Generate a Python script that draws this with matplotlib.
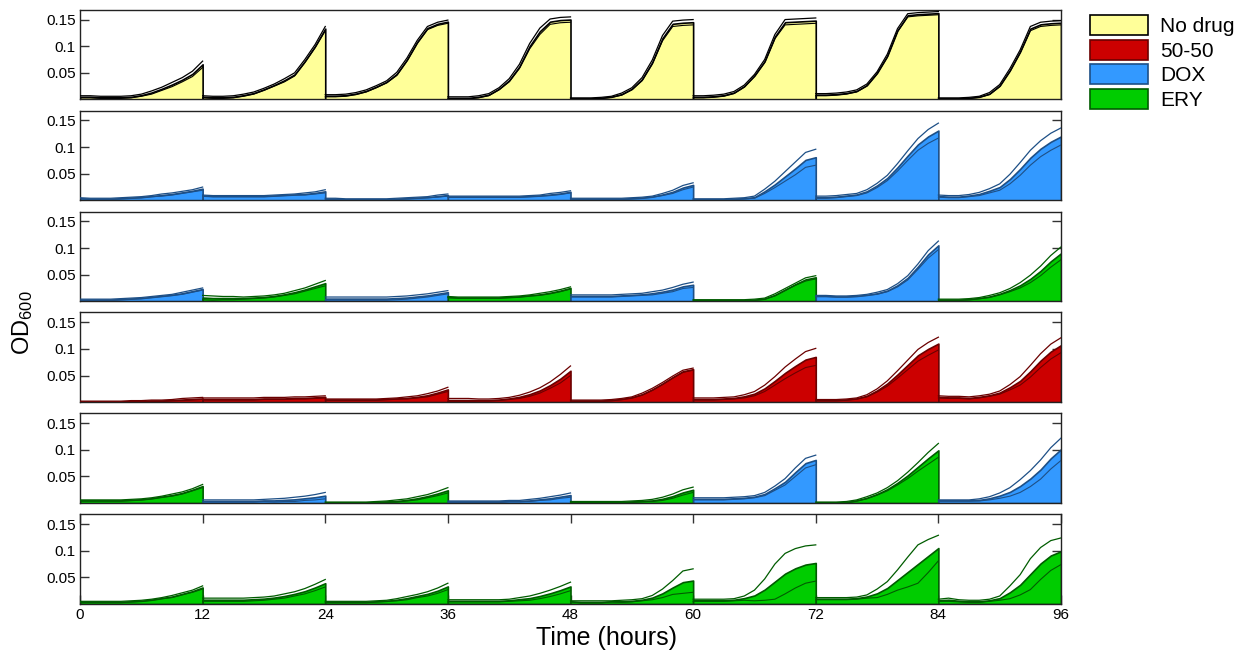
"""
Serial-transfer growth curves (OD600) under drug regimes, six lines x 8 transfers.
Each 12 h transfer: mean curve filled, +/- spread drawn as thin lines.
"""

import numpy as np
import matplotlib
matplotlib.use("Agg")
import matplotlib.pyplot as plt
from matplotlib.patches import Patch

plt.rcParams['font.family'] = ['Liberation Sans', 'DejaVu Sans']
plt.rcParams['mathtext.default'] = 'regular'

# ─── data (OD600 x 1000, hourly within each 12 h transfer) ────────────────────

hours = np.arange(13)
transfer_len = 12
time_ticks = [0, 12, 24, 36, 48, 60, 72, 84, 96]

# regime per transfer for every row: Y = no drug, R = 50-50, B = DOX, G = ERY
row_drugs = [
    list("YYYYYYYY"),
    list("BBBBBBBB"),
    list("BGBGBGBG"),
    list("RRRRRRRR"),
    list("GBGBGBGB"),
    list("GGGGGGGG"),
]

row1_mean = [
    [5, 5, 4, 4, 4, 5, 8, 13, 20, 28, 37, 48, 66],
    [5, 4, 4, 5, 8, 12, 19, 27, 36, 47, 72, 100, 133],
    [7, 7, 8, 11, 16, 24, 33, 48, 75, 108, 134, 142, 146],
    [3, 3, 3, 5, 9, 20, 36, 62, 100, 128, 146, 149, 150],
    [2, 2, 2, 3, 5, 10, 20, 38, 70, 115, 142, 144, 145],
    [5, 5, 6, 8, 13, 25, 45, 72, 118, 145, 146, 147, 148],
    [9, 9, 10, 12, 16, 27, 50, 82, 130, 158, 160, 161, 162],
    [2, 2, 2, 3, 5, 11, 26, 55, 90, 133, 141, 143, 144],
]
row1_sd = [
    [2, 2, 2, 2, 2, 2, 2, 3, 3, 4, 4, 5, 6],
    [2, 2, 2, 2, 2, 2, 2, 2, 3, 3, 3, 3, 4],
    [2, 2, 2, 2, 2, 2, 2, 3, 3, 3, 3, 3, 3],
    [2, 2, 2, 2, 2, 2, 3, 4, 5, 6, 5, 5, 5],
    [1, 1, 1, 1, 1, 2, 2, 3, 4, 5, 5, 5, 5],
    [2, 2, 2, 2, 2, 2, 2, 3, 4, 5, 5, 5, 5],
    [2, 2, 2, 2, 2, 2, 2, 3, 3, 3, 3, 3, 3],
    [1, 1, 1, 1, 1, 2, 2, 3, 3, 4, 4, 4, 4],
]

row2_mean = [
    [4, 3, 3, 3, 4, 5, 6, 8, 10, 12, 15, 18, 22],
    [9, 8, 8, 8, 8, 8, 8, 9, 10, 11, 12, 14, 17],
    [3, 3, 2, 2, 2, 2, 2, 3, 4, 5, 6, 8, 10],
    [7, 7, 7, 7, 7, 7, 7, 7, 8, 9, 11, 13, 16],
    [3, 3, 3, 3, 3, 3, 4, 5, 7, 11, 16, 24, 29],
    [2, 2, 2, 2, 3, 4, 6, 17, 30, 45, 60, 76, 81],
    [6, 6, 7, 9, 11, 17, 28, 42, 62, 84, 105, 120, 131],
    [8, 7, 7, 9, 12, 18, 25, 40, 59, 80, 97, 110, 120],
]
row2_sd = [
    [1, 1, 1, 1, 1, 1, 1, 1, 2, 2, 2, 2, 3],
    [1, 1, 1, 1, 1, 1, 1, 1, 1, 1, 2, 2, 3],
    [1, 1, 1, 1, 1, 1, 1, 1, 1, 1, 1, 2, 2],
    [1, 1, 1, 1, 1, 1, 1, 1, 1, 1, 2, 2, 2],
    [1, 1, 1, 1, 1, 1, 1, 1, 1, 2, 3, 4, 4],
    [1, 1, 1, 1, 1, 1, 2, 4, 6, 9, 12, 14, 15],
    [2, 2, 2, 2, 2, 3, 4, 5, 7, 9, 11, 13, 14],
    [2, 2, 2, 2, 3, 4, 6, 9, 12, 14, 15, 16, 16],
]

row3_mean = [
    [3, 3, 3, 3, 4, 5, 6, 8, 10, 12, 15, 19, 23],
    [7, 6, 6, 6, 6, 7, 8, 10, 13, 17, 22, 28, 34],
    [5, 5, 5, 5, 5, 5, 5, 6, 7, 9, 11, 14, 17],
    [8, 7, 7, 7, 7, 7, 8, 9, 11, 13, 16, 20, 25],
    [10, 10, 10, 10, 10, 11, 12, 13, 15, 18, 22, 28, 31],
    [2, 2, 2, 2, 2, 2, 3, 5, 12, 22, 32, 41, 45],
    [10, 10, 9, 9, 10, 12, 15, 20, 30, 44, 65, 88, 105],
    [3, 3, 3, 4, 6, 9, 14, 21, 30, 42, 57, 75, 90],
]
row3_sd = [
    [1, 1, 1, 1, 1, 1, 1, 1, 1, 1, 2, 2, 2],
    [4, 4, 3, 3, 2, 2, 2, 2, 2, 3, 3, 4, 5],
    [3, 3, 3, 3, 3, 3, 3, 3, 3, 3, 3, 3, 3],
    [1, 1, 1, 1, 1, 1, 1, 1, 1, 2, 2, 2, 2],
    [2, 2, 2, 2, 2, 2, 2, 2, 3, 3, 4, 4, 5],
    [1, 1, 1, 1, 1, 1, 1, 1, 2, 2, 2, 3, 3],
    [1, 1, 1, 1, 1, 1, 2, 2, 3, 4, 5, 7, 8],
    [1, 1, 1, 1, 1, 2, 2, 3, 5, 7, 9, 11, 12],
]

row4_mean = [
    [1, 1, 1, 1, 1, 2, 2, 3, 3, 4, 5, 6, 7],
    [6, 6, 6, 6, 6, 6, 7, 7, 7, 8, 8, 9, 10],
    [5, 5, 5, 5, 5, 5, 6, 7, 8, 10, 13, 18, 24],
    [4, 4, 4, 4, 4, 5, 7, 10, 15, 22, 32, 44, 59],
    [3, 3, 3, 3, 4, 6, 9, 15, 24, 35, 47, 58, 62],
    [6, 6, 6, 7, 8, 11, 16, 26, 40, 55, 68, 80, 85],
    [4, 4, 4, 5, 7, 12, 22, 35, 52, 70, 88, 100, 110],
    [10, 9, 9, 8, 10, 13, 18, 28, 40, 58, 78, 95, 107],
]
row4_sd = [
    [1, 1, 1, 1, 1, 1, 1, 1, 1, 1, 2, 2, 2],
    [2, 2, 2, 2, 2, 2, 2, 2, 2, 2, 2, 2, 2],
    [1, 1, 1, 1, 1, 1, 1, 1, 2, 2, 3, 3, 4],
    [3, 3, 3, 2, 2, 2, 2, 3, 4, 5, 6, 8, 9],
    [1, 1, 1, 1, 1, 1, 1, 2, 2, 2, 2, 2, 2],
    [2, 2, 2, 2, 2, 3, 4, 6, 8, 11, 13, 15, 16],
    [1, 1, 1, 1, 1, 2, 3, 5, 7, 9, 11, 12, 12],
    [2, 2, 2, 2, 2, 2, 3, 5, 8, 11, 13, 14, 14],
]

row5_mean = [
    [5, 5, 5, 5, 5, 6, 7, 9, 12, 15, 19, 25, 32],
    [4, 4, 4, 4, 4, 4, 5, 5, 6, 7, 9, 11, 14],
    [1, 1, 1, 1, 1, 2, 3, 4, 6, 9, 13, 18, 24],
    [3, 3, 3, 3, 3, 3, 4, 4, 5, 7, 9, 12, 15],
    [2, 2, 2, 2, 2, 2, 3, 4, 5, 8, 13, 20, 25],
    [8, 8, 8, 8, 9, 10, 12, 17, 28, 40, 58, 75, 81],
    [1, 1, 1, 2, 5, 10, 17, 26, 38, 52, 68, 84, 99],
    [5, 5, 5, 5, 6, 9, 14, 21, 32, 46, 63, 84, 101],
]
row5_sd = [
    [1, 1, 1, 1, 1, 1, 1, 1, 1, 2, 2, 2, 3],
    [2, 2, 2, 2, 2, 2, 2, 3, 3, 4, 4, 5, 6],
    [1, 1, 1, 1, 1, 1, 1, 2, 2, 3, 3, 4, 5],
    [1, 1, 1, 1, 1, 1, 1, 1, 2, 2, 3, 3, 4],
    [1, 1, 1, 1, 1, 1, 1, 1, 2, 3, 4, 5, 5],
    [2, 2, 2, 2, 2, 2, 2, 3, 4, 6, 8, 9, 9],
    [1, 1, 1, 1, 1, 2, 2, 3, 4, 6, 8, 11, 13],
    [1, 1, 1, 1, 2, 3, 5, 8, 12, 15, 18, 20, 21],
]

row6_mean = [
    [4, 4, 4, 4, 4, 5, 6, 8, 11, 14, 19, 24, 31],
    [8, 8, 8, 8, 8, 9, 10, 12, 15, 19, 24, 31, 39],
    [4, 4, 4, 4, 4, 5, 6, 8, 11, 15, 19, 25, 33],
    [6, 6, 6, 6, 6, 6, 7, 9, 11, 15, 20, 26, 33],
    [5, 4, 4, 4, 5, 5, 6, 8, 12, 20, 31, 41, 44],
    [7, 7, 7, 7, 8, 11, 16, 27, 42, 57, 67, 74, 77],
    [10, 10, 10, 10, 11, 14, 20, 30, 45, 60, 75, 90, 105],
    [7, 8, 6, 5, 5, 7, 11, 22, 36, 56, 76, 91, 99],
]
row6_sd = [
    [1, 1, 1, 1, 1, 1, 1, 1, 1, 2, 2, 2, 3],
    [3, 3, 3, 3, 3, 3, 3, 3, 4, 4, 5, 6, 7],
    [1, 1, 1, 1, 1, 1, 1, 2, 3, 3, 4, 5, 6],
    [2, 2, 2, 2, 2, 2, 2, 3, 4, 5, 6, 7, 8],
    [1, 2, 2, 2, 1, 2, 2, 2, 4, 8, 13, 21, 22],
    [2, 2, 2, 2, 2, 4, 10, 20, 33, 38, 37, 35, 34],
    [2, 2, 2, 2, 2, 3, 8, 12, 19, 28, 36, 31, 24],
    [2, 3, 2, 2, 2, 2, 4, 12, 19, 29, 30, 28, 25],
]

all_mean = [row1_mean, row2_mean, row3_mean, row4_mean, row5_mean, row6_mean]
all_sd = [row1_sd, row2_sd, row3_sd, row4_sd, row5_sd, row6_sd]

# ─── style ─────────────────────────────────────────────────────────────────────

FILL = {"Y": "#FFFF99", "R": "#CC0000", "B": "#3399FF", "G": "#00CC00"}
EDGE = {"Y": "#000000", "R": "#6B0000", "B": "#1D4F86", "G": "#005C00"}
LABELS = [("Y", "No drug"), ("R", "50-50"), ("B", "DOX"), ("G", "ERY")]

# ─── figure ────────────────────────────────────────────────────────────────────

fig, axes = plt.subplots(6, 1, figsize=(12.47, 6.53), dpi=100, sharex=True)
fig.subplots_adjust(left=80 / 1247, right=1061 / 1247,
                    top=1 - 9.7 / 653, bottom=1 - 604 / 653, hspace=0.124)

for r, ax in enumerate(axes):
    for k, drug in enumerate(row_drugs[r]):
        t = k * transfer_len + hours
        m = np.array(all_mean[r][k]) / 1000
        s = np.array(all_sd[r][k]) / 1000
        ax.fill_between(t, 0, m, facecolor=FILL[drug], edgecolor=EDGE[drug],
                        lw=1.2, zorder=2)
        ax.plot(t, m + s, color=EDGE[drug], lw=0.9, zorder=3)
        ax.plot(t, np.clip(m - s, 0, None), color=EDGE[drug], lw=0.8, zorder=3)

    ax.set_xlim(0, 96)
    ax.set_ylim(0, 0.1685)
    ax.set_yticks([0.05, 0.1, 0.15])
    ax.set_yticklabels(["0.05", "0.1", "0.15"])
    ax.tick_params(axis="y", direction="in", left=True, right=True,
                   length=6.5, width=1, labelsize=11, pad=3, color="#333")
    for sp in ax.spines.values():
        sp.set_linewidth(1.0)
        sp.set_color("#222")
    if r < 5:
        ax.tick_params(axis="x", bottom=False, top=False, labelbottom=False)

axes[-1].set_xticks(time_ticks)
axes[-1].tick_params(axis="x", direction="in", bottom=True, top=True,
                     length=6.5, width=1, labelsize=11, pad=3, color="#333")

fig.text(606.5 / 1247, 1 - 638 / 653, "Time (hours)", fontsize=18,
         ha="center", va="center")
fig.text(23 / 1247, 1 - 323 / 653, r"OD$_{600}$", fontsize=17,
         rotation=90, ha="center", va="center")

handles = [Patch(facecolor=FILL[d], edgecolor=EDGE[d], lw=1.2, label=lab)
           for d, lab in LABELS]
fig.legend(handles=handles, loc="upper left",
           bbox_to_anchor=(1090 / 1247, 1 - 15 / 653), frameon=False,
           fontsize=15, handlelength=2.8, handleheight=1.1,
           labelspacing=0.17, handletextpad=0.57, borderpad=0,
           borderaxespad=0)

fig.savefig("out.png", dpi=100)
